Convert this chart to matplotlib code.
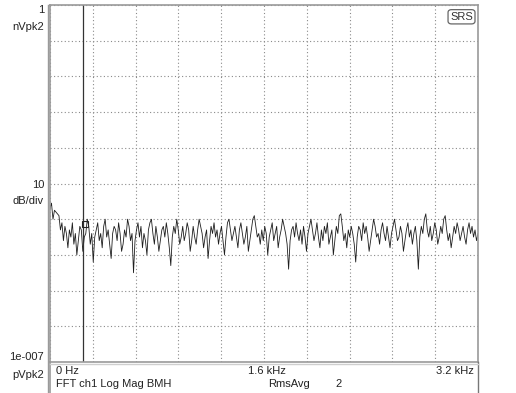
import numpy as np
import matplotlib.pyplot as plt
from matplotlib.patches import FancyBboxPatch
from matplotlib.lines import Line2D

plt.rcParams['font.family'] = ['Liberation Sans Narrow', 'Liberation Sans', 'DejaVu Sans']

# spectrum trace, dB relative to 1 nVpk2 (top of screen)
trace_db = [-57, -55.5, -60, -57.5, -58, -58.5, -59, -63, -61, -66, -62, -64, -68, -63, -65, -61,
            -67, -64, -70, -66, -62, -63, -69, -65, -64, -60, -62, -67, -64, -72, -65, -63,
            -61, -66, -64, -68, -62, -60, -65, -63, -67, -71, -64, -62, -63, -66, -61, -64,
            -69, -67, -63, -65, -60, -62, -66, -64, -75, -66, -63, -61, -65, -62, -68, -64,
            -66, -70, -63, -61, -60, -64, -67, -62, -65, -69, -66, -63, -62, -65, -61, -64,
            -68, -73, -65, -62, -64, -60, -63, -67, -65, -62, -66, -64, -61, -63, -69, -66,
            -62, -65, -67, -63, -60, -62, -64, -68, -65, -63, -71, -66, -62, -64, -61, -65,
            -63, -67, -64, -62, -66, -70, -65, -61, -60, -63, -66, -64, -62, -65, -68, -63,
            -61, -64, -67, -65, -62, -69, -66, -63, -60, -59, -62, -65, -64, -67, -63, -66,
            -62, -64, -70, -65, -63, -61, -66, -64, -62, -68, -65, -63, -60, -62, -64, -67,
            -74, -66, -63, -62, -65, -61, -64, -66, -63, -67, -62, -65, -69, -64, -62, -60,
            -63, -66, -64, -61, -65, -68, -63, -66, -62, -64, -61, -67, -65, -63, -70, -66,
            -62, -64, -59, -58.5, -62, -66, -64, -68, -63, -65, -62, -64, -67, -72, -65, -62,
            -63, -66, -61, -64, -62, -65, -69, -66, -63, -60, -62, -65, -64, -67, -63, -61,
            -64, -66, -62, -65, -68, -64, -62, -60, -63, -66, -65, -62, -64, -69, -66, -63,
            -61, -65, -63, -67, -64, -62, -66, -74, -65, -62, -64, -60, -58.5, -63, -65, -62,
            -66, -64, -61, -63, -67, -65, -62, -64, -60, -59, -63, -66, -64, -68, -65, -62,
            -64, -61, -63, -66, -64, -62, -65, -67, -63, -61, -64, -62, -65, -63, -66, -64]
span_hz = 3200
marker_hz = 247
marker_pt = (262, -61.3)

freqs = np.linspace(0, span_hz, len(trace_db))

fig = plt.figure(figsize=(5.16, 3.93), dpi=100)
ax = fig.add_axes([50 / 516, 31 / 393, 428 / 516, 357 / 393])

ax.plot(freqs, trace_db, color='#1e1e1e', lw=0.6)
ax.axvline(marker_hz, color='#333333', lw=0.9)
ax.plot(*marker_pt, marker='s', ms=5, mfc='none', mec='#222222', mew=0.8)

ax.set_xlim(0, span_hz)
ax.set_ylim(-100, 0)
ax.set_xticks(np.linspace(0, span_hz, 11))
ax.set_yticks(np.arange(-100, 1, 10))
ax.grid(True, color='#8a8a8a', lw=0.8, ls=(0, (1, 2.2)))
ax.tick_params(length=0, labelbottom=False, labelleft=False)
for s in ax.spines.values():
    s.set_color('#9a9a9a')
    s.set_linewidth(1.2)

# extra frame lines of the analyser screen
fig.add_artist(Line2D([47.5 / 516] * 2, [0, 388 / 393], color='#9a9a9a', lw=1.0))
fig.add_artist(Line2D([50 / 516] * 2, [0, 31 / 393], color='#9a9a9a', lw=1.2))
fig.add_artist(Line2D([478 / 516] * 2, [0, 31 / 393], color='#777777', lw=1.0))
fig.add_artist(Line2D([50 / 516, 478 / 516], [29.5 / 393] * 2, color='#cfcfcf', lw=1.0))

# SRS badge
ax.add_patch(FancyBboxPatch((0.93, 0.947), 0.063, 0.04, transform=ax.transAxes,
                            boxstyle='round,pad=0.0,rounding_size=0.008',
                            fc='white', ec='#666666', lw=0.9, zorder=5))
ax.text(0.9615, 0.967, 'SRS', transform=ax.transAxes, ha='center', va='center',
        fontsize=8, color='#333333', zorder=6)

tc = '#222222'
fs = 8
fig.text(44 / 516, 1 - 10 / 393, '1', ha='right', va='center', fontsize=fs, color=tc)
fig.text(44 / 516, 1 - 27 / 393, 'nVpk2', ha='right', va='center', fontsize=fs, color=tc)
fig.text(44 / 516, 1 - 185 / 393, '10', ha='right', va='center', fontsize=fs, color=tc)
fig.text(44 / 516, 1 - 201 / 393, 'dB/div', ha='right', va='center', fontsize=fs, color=tc)
fig.text(44 / 516, 1 - 357 / 393, '1e-007', ha='right', va='center', fontsize=fs, color=tc)
fig.text(44 / 516, 1 - 375 / 393, 'pVpk2', ha='right', va='center', fontsize=fs, color=tc)

fig.text(56 / 516, 1 - 371 / 393, '0 Hz', ha='left', va='center', fontsize=fs, color=tc)
fig.text(248 / 516, 1 - 371 / 393, '1.6 kHz', ha='left', va='center', fontsize=fs, color=tc)
fig.text(474 / 516, 1 - 371 / 393, '3.2 kHz', ha='right', va='center', fontsize=fs, color=tc)
fig.text(56 / 516, 1 - 384 / 393, 'FFT ch1 Log Mag BMH', ha='left', va='center', fontsize=fs, color=tc)
fig.text(268 / 516, 1 - 384 / 393, 'RmsAvg', ha='left', va='center', fontsize=fs, color=tc)
fig.text(335 / 516, 1 - 384 / 393, '2', ha='left', va='center', fontsize=fs, color=tc)

fig.savefig('out.png', dpi=100)
